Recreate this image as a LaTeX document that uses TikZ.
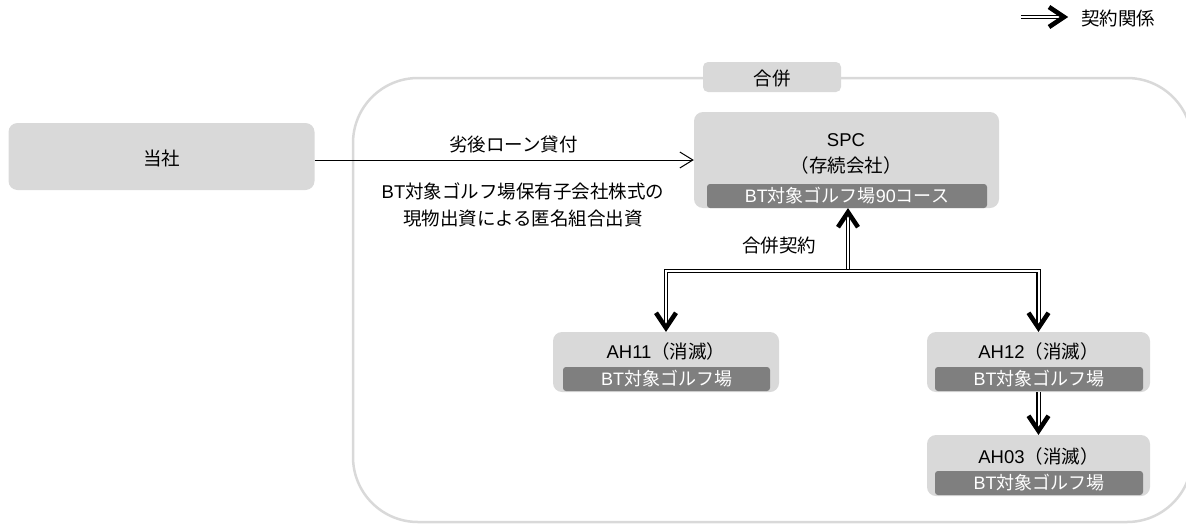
\documentclass[tikz,border=0pt]{standalone}
\usepackage{fontspec}
\setmainfont{Liberation Sans}
\newfontfamily\cjkfont{Noto Sans CJK JP}
\XeTeXinterchartokenstate=1
\newXeTeXintercharclass\cjkclass
\newcount\cjkcc
\def\setcjkrange#1#2{\cjkcc=#1 \loop \XeTeXcharclass\cjkcc=\cjkclass \ifnum\cjkcc<#2 \advance\cjkcc by 1 \repeat}
\setcjkrange{"3000}{"30FF}
\setcjkrange{"4E00}{"9FFF}
\setcjkrange{"FF00}{"FFEF}
\XeTeXinterchartoks 0 \cjkclass = {\cjkfont}
\XeTeXinterchartoks 4095 \cjkclass = {\cjkfont}
\XeTeXinterchartoks \cjkclass 0 = {\rmfamily}
\XeTeXinterchartoks \cjkclass 4095 = {\rmfamily}
\usetikzlibrary{arrows.meta}
\definecolor{boxgray}{HTML}{D9D9D9}
\definecolor{subgray}{HTML}{7F7F7F}
\definecolor{framegray}{HTML}{D9D9D9}
\tikzset{
  box/.style={fill=boxgray, rounded corners=9pt, inner sep=0pt},
  subbox/.style={fill=subgray, rounded corners=3pt, inner sep=0pt, text=white, font=\fontsize{18}{20}\selectfont},
  lbl/.style={inner sep=0pt, align=center, font=\fontsize{18.5}{26.5}\selectfont},
  dbl/.style={draw=black, double=white, double distance=2pt, line width=1.3pt},
  thintip/.tip={Straight Barb[length=13pt,width=16pt,line width=1pt 0]},
  thin/.style={draw=black, line width=1pt},
  frame/.style={draw=framegray, line width=2.5pt, rounded corners=65pt},
  vtip/.pic={\draw[line width=4.6pt, line join=miter, line cap=butt] (-10,-15) -- (0,0) -- (10,-15);}
}
\begin{document}
\begin{tikzpicture}[x=1pt,y=-1pt]
\useasboundingbox (0,0) rectangle (1186,525);
\begin{scope}
  \clip (0,0) rectangle (1186,525);
  \draw[frame] (353,78) rectangle (1192,522);
\end{scope}

% merge label
\node[box, rounded corners=5pt, minimum width=138pt, minimum height=30pt] (mergelbl) at (772,77) {};
\node[lbl] (mergetxt) at (772,79) {合併};

% Tosha
\node[box, minimum width=306pt, minimum height=67pt] (tosha) at (161.5,156.5) {};
\node[lbl] (toshatxt) at (161.5,158) {当社};

% SPC
\node[box, minimum width=305pt, minimum height=96pt] (spc) at (846.5,160) {};
\node[subbox, minimum width=280pt, minimum height=24pt] (spcsub) at (847,196) {BT対象ゴルフ場90コース};
\node[lbl] (spctxt) at (846,154) {SPC\\（存続会社）};

% AH11
\node[box, minimum width=226pt, minimum height=60pt] (ah11) at (666,362) {};
\node[subbox, minimum width=207pt, minimum height=24pt] (ah11sub) at (666.5,379) {BT対象ゴルフ場};
\node[lbl] (ah11txt) at (666,351) {AH11（消滅）};

% AH12
\node[box, minimum width=223pt, minimum height=60pt] (ah12) at (1038.5,362) {};
\node[subbox, minimum width=208pt, minimum height=24pt] (ah12sub) at (1039,379) {BT対象ゴルフ場};
\node[lbl] (ah12txt) at (1038.5,351) {AH12（消滅）};

% AH03
\node[box, minimum width=223pt, minimum height=61pt] (ah03) at (1038.5,465.5) {};
\node[subbox, minimum width=208pt, minimum height=24pt] (ah03sub) at (1039,483) {BT対象ゴルフ場};
\node[lbl] (ah03txt) at (1038.5,456) {AH03（消滅）};

% loan arrow
\draw[thin, -{thintip}] (tosha.east |- spc.west) -- (spc.west);
\node[lbl] (loan) at (513.5,144) {劣後ローン貸付};
\node[lbl] (inkind) at (523,205) {BT対象ゴルフ場保有子会社株式の\\現物出資による匿名組合出資};

% merger contract connectors
\coordinate (m) at (848,271);
\coordinate (spcin) at (m |- spc.south);
\draw[dbl, shorten >=5pt] (m) -- (spcin);
\pic[rotate=180] at ([yshift=-4pt]spcin) {vtip};
\draw[dbl, shorten <=5pt, shorten >=5pt] (ah11.north) |- (m) -| (ah12.north);
\pic at ([yshift=4pt]ah11.north) {vtip};
\pic at ([yshift=4pt]ah12.north) {vtip};
\draw[dbl, shorten >=5pt] (ah12.south) -- (ah03.north);
\pic at ([yshift=4pt]ah03.north) {vtip};
\node[lbl] (contract) at (779,246) {合併契約};

% legend
\node[lbl] (legtxt) at (1118,18) {契約関係};
\coordinate (legstart) at (1021,17);
\coordinate (legend) at (1068,17);
\draw[dbl, shorten >=5pt] (legstart) -- (legend);
\pic[rotate=90] at ([xshift=-4pt]legend) {vtip};
\end{tikzpicture}
\end{document}
